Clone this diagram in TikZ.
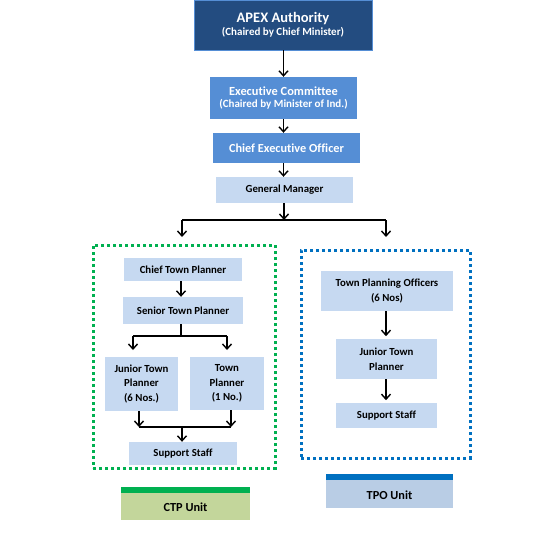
\documentclass[tikz,border=0pt]{standalone}
\usepackage{fontspec}
\setmainfont{Carlito}[Ligatures=NoCommon]
\usetikzlibrary{arrows.meta}
\definecolor{darkb}{HTML}{234C80}
\definecolor{midb}{HTML}{558ED5}
\definecolor{lightb}{HTML}{C6D9F1}
\definecolor{gbar}{HTML}{00B050}
\definecolor{gfill}{HTML}{C3D69B}
\definecolor{bbar}{HTML}{0070C0}
\definecolor{bfill}{HTML}{B9CDE5}
\tikzset{
  box/.style={rectangle, inner sep=1pt, align=center, font=\bfseries, text=black},
  darkbox/.style={box, fill=darkb, draw=midb, line width=0.6pt, text=white},
  midbox/.style={box, fill=midb, text=white},
  lightbox/.style={box, fill=lightb},
  arr/.style={-{Straight Barb[length=5pt,width=9pt,line width=1.4pt]}, line width=1.4pt},
  ln/.style={line width=1.4pt},
  small/.style={font=\bfseries\fontsize{10.8}{14.5}\selectfont},
  greendot/.style={draw=gbar, line width=3pt, dash pattern=on 3pt off 3pt, minimum width=182pt, minimum height=223pt, inner sep=0pt},
  bluedot/.style={draw=bbar, line width=3pt, dash pattern=on 3pt off 3pt, minimum width=169pt, minimum height=208pt, inner sep=0pt},
}
\begin{document}
\begin{tikzpicture}[x=1pt,y=-1pt]
\useasboundingbox (0,0) rectangle (548,548);
% top chain
\node[darkbox, minimum width=178pt, minimum height=50pt] (apex) at (283,25)
  {{\fontsize{14.5}{16}\selectfont APEX Authority}\\[1pt]{\fontsize{11}{12}\selectfont (Chaired by Chief Minister)}};
\node[midbox, minimum width=147pt, minimum height=42pt] (exec) at (283.5,98)
  {{\fontsize{12.4}{14}\selectfont Executive Committee}\\{\fontsize{11}{13}\selectfont (Chaired by Minister of Ind.)}};
\node[midbox, minimum width=147pt, minimum height=30pt, font=\bfseries\fontsize{12.3}{14}\selectfont] (ceo) at (286.5,148) {Chief Executive Officer};
\node[lightbox, small, minimum width=137pt, minimum height=26pt] (gm) at (284.5,190) {General Manager};
\draw[arr] (apex.south -| exec.north) -- (exec.north);
\draw[arr] (exec.south) -- (exec.south |- ceo.north);
\draw[arr] (ceo.south -| exec.south) -- (gm.north -| exec.south);
% split
\coordinate (sp) at (284,220);
\coordinate (L) at (182,220);
\coordinate (R) at (386,220);
\draw[arr] (gm.south -| sp) -- (sp);
\draw[ln] (L) -- (R);
% unit boxes
\node[greendot] (ctp) at (184,356.5) {};
\node[bluedot] (tpo) at (385.5,354) {};
\draw[arr] (L) -- ++(0,17) coordinate (Lend);
\draw[arr] (R) -- ++(0,17) coordinate (Rend);
% CTP
\node[lightbox, small, minimum width=118pt, minimum height=23pt] (ctpl) at (183,269.5) {Chief Town Planner};
\node[lightbox, small, minimum width=120pt, minimum height=27pt] (stp) at (183,310.5) {Senior Town Planner};
\node[lightbox, small, minimum width=73pt, minimum height=54pt] (jtp) at (141.5,384) {Junior Town\\Planner\\(6 Nos.)};
\node[lightbox, small, minimum width=74pt, minimum height=53pt] (tp) at (227,383.5) {Town\\Planner\\(1 No.)};
\node[lightbox, small, minimum width=108pt, minimum height=23pt] (ss) at (183,453.5) {Support Staff};
\draw[arr] (ctpl.south -| 181,0) -- (stp.north -| 181,0);
\coordinate (s1) at (181,336);
\coordinate (s1l) at (133,336);
\coordinate (s1r) at (227,336);
\draw[ln] (stp.south -| s1) -- (s1);
\draw[ln] (s1l) -- (s1r);
\draw[arr] (s1l) -- ++(0,14);
\draw[arr] (s1r) -- ++(0,14);
\coordinate (m1l) at (139,427);
\coordinate (m1r) at (231,427);
\coordinate (m1) at (182,427);
\draw[arr] (jtp.south -| m1l) -- (m1l);
\draw[arr] (tp.south -| m1r) -- (m1r);
\draw[ln] (m1l) -- (m1r);
\draw[arr] (m1) -- (ss.north -| m1);
% TPO
\node[lightbox, small, minimum width=132pt, minimum height=40pt] (tpo1) at (387,291) {Town Planning Officers\\(6 Nos)};
\node[lightbox, small, minimum width=101pt, minimum height=40pt] (jtp2) at (386.5,359) {Junior Town\\Planner};
\node[lightbox, small, minimum width=101pt, minimum height=25pt] (ss2) at (386.5,415.5) {Support Staff};
\draw[arr] (tpo1.south -| 386,0) -- ++(0,25);
\draw[arr] (jtp2.south -| 386,0) -- ++(0,21);
% unit labels
\fill[gfill] (121,487) rectangle (250,520);
\fill[gbar] (121,487) rectangle (250,493);
\node[box, font=\bfseries\fontsize{12.3}{14}\selectfont] (ctpu) at (185.5,507) {CTP Unit};
\fill[bfill] (326,474) rectangle (453,508);
\fill[bbar] (326,474) rectangle (453,480);
\node[box, font=\bfseries\fontsize{12.3}{14}\selectfont] (tpou) at (389.5,495) {TPO Unit};
\end{tikzpicture}
\end{document}
